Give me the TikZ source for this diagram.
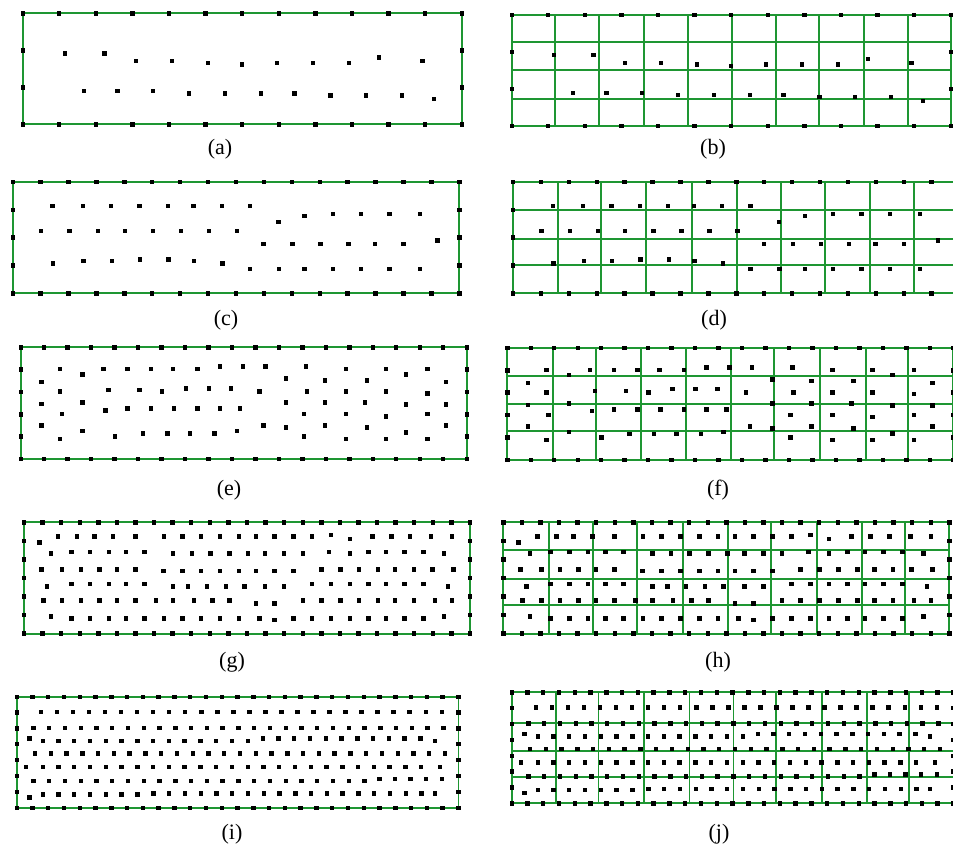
\documentclass[tikz,border=0pt]{standalone}
\usepackage{fontspec}
\setmainfont{Liberation Serif}
\definecolor{gr}{RGB}{30,150,50}
\tikzset{gline/.style={draw=gr,line width=1.8pt},
lab/.style={font=\fontsize{22}{26}\selectfont,inner sep=0pt}}
\newcommand\dt[2]{\fill[black] (#1-2.2,#2-2.2) rectangle ++(4.4,4.4);}
\newcommand\pnl[4]{%
 \draw[gline] (0,0) rectangle (#1,#2);
 \foreach \i in {0,...,#3} {\dt{\i*#1/#3}{0}\dt{\i*#1/#3}{#2}}
 \foreach \j in {0,...,#4} {\dt{0}{\j*#2/#4}\dt{#1}{\j*#2/#4}}}
\newcommand\grd[4]{%
 \foreach \gx in {#3} {\draw[gline] (\gx,0) -- (\gx,#2);}
 \foreach \gy in {#4} {\draw[gline] (0,\gy) -- (#1,\gy);}}
\newcommand\pts[1]{\foreach \px/\py in #1 {\dt{\px}{\py}}}
\def\PA{42.3/40,81.6/40,113.3/47.7,149.3/47.7,185/49.4,219/51,254.3/49.4,290.3/49.4,326.3/49.4,356.3/44,399.6/47.7,61/77.7,94.6/77.7,130.3/77.7,166.3/80,202.3/80,238.3/80,271.6/80,307.6/82,343.3/82,379.3/82,411/85.7}
\def\PC{39.7/24,70/24,98.3/24,126.7/24,155/24,180.7/24,209/24,237.3/24,265.7/39.7,291.7/33.7,320/32,348.3/32,376.7/32,407/32,
28.3/49,56.7/49,85/49,112/49,140.3/49,168.3/49,196.3/49,224.3/49,250.7/62,279.7/62,307.7/62,335.7/62,362.3/62,390.7/62,424.7/58.3,
40.3/81.3,70.7/79,99/79,127.3/77.3,155.7/77.3,181.3/79,209.7/81.3,237.3/87,266.3/87,291.7/87,320/87,348.3/87,376.7/87,407/87}
\def\PE{39.3/21.7,61.7/27,82.7/21.7,106.7/21.7,130/21.7,152/21.7,176.7/21.7,199.3/19.3,222/19.3,244.7/19.3,285/19.3,325.3/21.7,365/21.7,385.3/27,406.7/21.7,
20.7/34.7,265/31.3,304.3/33,346/33,425/34.7,
39.3/44.3,87.7/42.7,118.7/42.7,141/44.3,165.3/41,188/41,210.3/41,238.7/44.3,286/44.3,325.3/44.3,365/44.3,406.7/46,
20.7/56.7,61.7/55.3,265/55.3,304.3/55.3,344.3/55.3,385.3/57.3,425/57.3,
41/66.7,84.7/63,106.7/61.3,130/61.3,153.3/61.3,176.7/61.3,199.3/61.3,219.3/61.3,283.3/66.7,325.3/66.7,365/69,406.7/66.7,
20.7/78.3,61.7/83.7,242.7/78.3,265/80.3,304.3/78.3,346/80.3,385.3/85.3,425/78.3,
39.3/91.7,94/89.3,122/86,146.7/86,169/86,193.7/86,216.3/83.7,283.3/89.3,325.3/91.7,365/91.7,406.7/91.7}
\def\PG{15.3/20.3,34/14.3,53/14.3,70.3/14.3,89/14.3,111.3/14.3,139.7/14.3,158.3/14.3,177/14.3,196/14.3,214.7/14.3,231.7/14.3,250.3/14.3,269.3/14.3,288/14.3,307/12.7,325.7/16.7,348.3/14.3,367.3/14.3,386/14.3,407/14.3,427.7/14.3,
26.7/31.3,47.3/29.7,66/29.7,84.7/29.7,102/29.7,120.3/29.7,149/31.3,167.7/31.3,186.3/31.3,205.3/31.3,224/31.3,241/31.3,260/31.3,278.7/31.3,305/29.7,325.7/31.3,344.3/29.7,361.7/29.7,380.3/29.7,399.3/29.7,420/31.3,
17.3/47,38/47,56.7/47,75.3/47,92.7/47,111.3/47,139.3/48.7,158.3/48.7,177/48.7,196/48.7,214.7/48.7,231.7/48.7,250.3/48.7,269.3/48.7,297.3/47,316.3/47,335/47,354/47,371/47,389.7/47,408.3/47,429.3/47,
23/64,47.3/61.7,66/61.7,84.7/61.7,102/61.7,120.3/61.7,149/64,164/64,182.7/64,201.7/64,220.3/64,241/64,260/64,288/61.7,307/61.7,325.7/61.7,344.3/61.7,361.7/61.7,380.3/61.7,399.3/61.7,423.7/64,
19.3/78.3,38/78.3,56.7/78.3,75.3/78.3,92.7/78.3,111.3/78.3,132/78.3,149/78.3,169.7/78.3,188.3/78.3,205.3/78.3,231.7/81,250.3/81,278.7/78.3,297.3/78.3,316.3/78.3,335/78.3,354/78.3,371/78.3,389.7/78.3,410.7/78.3,427.7/78.3,
26.7/94.3,47.3/96,66/96,84.7/96,102/96,120.3/96,139.7/96,158.3/96,177/96,196/96,214.7/96,235.3/96,250.3/97.7,269.3/96,288/96,307/96,325.7/96,344.3/96,361.7/96,380.3/96,399.3/96,420/94.3}
\newcommand\ptsI{%
 \foreach \k in {0,...,25} {\dt{24.3+16.03*\k}{15}}
 \foreach \k in {0,...,26} {\dt{16.7+15.77*\k}{31}}
 \dt{12.7}{41.7}
 \foreach \k in {0,...,13} {\dt{26+15.77*\k}{44.3}}
 \foreach \k in {0,...,10} {\dt{246+15.77*\k}{41.7}}
 \dt{418.3}{44.3}
 \foreach \k in {0,...,26} {\dt{18.3+15.77*\k}{56.7}}
 \dt{9.3}{70}
 \foreach \k in {0,...,24} {\dt{26+15.77*\k}{70}}
 \dt{423.3}{70}
 \foreach \k in {0,...,21} {\dt{16.7+15.77*\k}{84.3}}
 \foreach \k in {0,...,4} {\dt{362.7+15.6*\k}{82.3}}
 \dt{12.7}{100.7}
 \foreach \k in {0,...,6} {\dt{26+15.77*\k}{97.7}}
 \foreach \k in {0,...,17} {\dt{136.7+15.77*\k}{96.7}}
 \dt{418.3}{96.7}}
\begin{document}
\begin{tikzpicture}[x=1pt,y=-1pt]
\useasboundingbox (0,0) rectangle (953,854);
\fill[white] (0,0) rectangle (953,854);
% (a)
\begin{scope}[shift={(22.7,13.3)}]
 \pnl{439}{111}{12}{3}\pts{\PA}
\end{scope}
% (b)
\begin{scope}[shift={(511.7,15)}]
 \grd{439}{111}{43.3,87.6,132.3,176,220.6,264.3,307.6,352.6,396}{27.3,55.3,84}
 \pnl{439}{111}{12}{3}\pts{\PA}
\end{scope}
% (c)
\begin{scope}[shift={(12.7,182)}]
 \pnl{446.6}{111.3}{16}{4}\pts{\PC}
\end{scope}
% (d)
\begin{scope}[shift={(513,182)}]
 \grd{446.6}{111.3}{45.3,88,133.3,179,224,267.7,312.3,357.3,401}{28.3,56.7,83.3}
 \pnl{446.6}{111.3}{16}{4}\pts{\PC}
\end{scope}
% (e)
\begin{scope}[shift={(20.7,347.3)}]
 \pnl{446}{111.7}{19}{5}\pts{\PE}
\end{scope}
% (f)
\begin{scope}[shift={(507.3,348)}]
 \grd{446}{111.7}{45.3,88.7,133.7,178.7,223.7,267,312.7,358.3,401}{27.7,56,83}
 \pnl{446}{111.7}{19}{5}\pts{\PE}
\end{scope}
% (g)
\begin{scope}[shift={(24,522.3)}]
 \pnl{446}{111.3}{24}{6}\pts{\PG}
\end{scope}
% (h)
\begin{scope}[shift={(503.3,522.3)}]
 \grd{446}{111.3}{45.3,89.3,134,179.3,224.3,267.7,313.3,358.3,401.7}{28,56.3,82.7}
 \pnl{446}{111.3}{24}{6}\pts{\PG}
\end{scope}
% (i)
\begin{scope}[shift={(16.7,696.7)}]
 \pnl{441.7}{111}{28}{7}\ptsI
\end{scope}
% (j)
\begin{scope}[shift={(511.7,692.3)}]
 \grd{441.7}{111}{44.3,86.7,132.3,177.7,221.7,264.3,310,355,397.3}{30.3,58.3,84.3}
 \pnl{441.7}{111}{28}{7}\ptsI
\end{scope}
% labels
\node[lab] (la) at (220,149) {(a)};
\node[lab] (lb) at (713,149) {(b)};
\node[lab] (lc) at (226,320) {(c)};
\node[lab] (ld) at (714,320) {(d)};
\node[lab] (le) at (229,490) {(e)};
\node[lab] (lf) at (718,490) {(f)};
\node[lab] (lg) at (232,662) {(g)};
\node[lab] (lh) at (718,662) {(h)};
\node[lab] (li) at (232,834) {(i)};
\node[lab] (lj) at (719,834) {(j)};
\end{tikzpicture}
\end{document}
